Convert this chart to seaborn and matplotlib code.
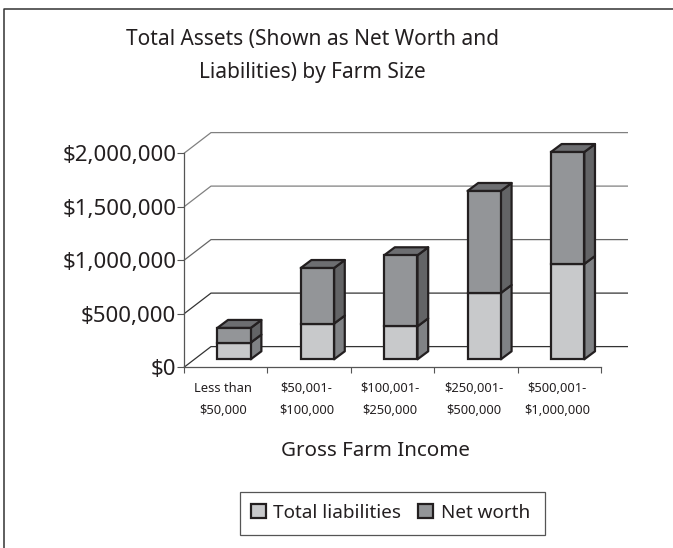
import matplotlib
matplotlib.use("Agg")
import matplotlib.pyplot as plt
import seaborn as sns
import pandas as pd
from matplotlib.patches import Polygon, Patch, Rectangle
from matplotlib.lines import Line2D
from matplotlib.transforms import Affine2D

categories = ["Less than\n$50,000", "$50,001-\n$100,000", "$100,001-\n$250,000",
              "$250,001-\n$500,000", "$500,001-\n$1,000,000"]
total_liabilities = [156000, 334000, 308000, 620000, 891000]
net_worth = [137000, 519000, 664000, 953000, 1046000]
y_ticks = [0, 500000, 1000000, 1500000, 2000000]
y_labels = ["$0", "$500,000", "$1,000,000", "$1,500,000", "$2,000,000"]

C_LIAB, C_NET = "#C8C9CB", "#939598"
C_LIAB_SIDE, C_NET_SIDE, C_TOP = "#808285", "#636466", "#6D6E71"
EDGE = "#231F20"
LW = 1.6

W, H = 673, 548
sns.set_theme(style="white")
plt.rcParams["font.family"] = ["Noto Sans", "DejaVu Sans"]

fig = plt.figure(figsize=(W / 100, H / 100), dpi=100)
fig.patch.set_facecolor("white")
ax = fig.add_axes([184 / W, 1 - 367.3 / H, (601 - 184) / W, (367.3 - 153.3) / H])
ax.patch.set_alpha(0)

df = pd.DataFrame({"cat": categories, "liab": total_liabilities, "net": net_worth})
kw = dict(edgecolor=EDGE, linewidth=LW, width=0.4, saturation=1, zorder=5)
sns.barplot(data=df, x="cat", y="liab", color=C_LIAB, ax=ax, **kw)
sns.barplot(data=df, x="cat", y="net", bottom=df["liab"].to_numpy(), color=C_NET, ax=ax, **kw)

ax.set_xlim(-0.5, 4.5)
ax.set_ylim(0, 2000000)

# depth of the 3D frame and of the bars, in data units
wall_dx, wall_dy = 27 / 83.4, 20.7 / 107 * 1e6
bar_sx, bar_sy = 8.3 / 83.4, 8 / 107 * 1e6
bar_dx, bar_dy = 10.7 / 83.4, 8 / 107 * 1e6

# shift front faces into the floor
shift = Affine2D().translate(bar_sx, bar_sy) + ax.transData
for p in ax.patches:
    p.set_transform(shift)
    p.set_clip_on(False)

# side and top faces
half = 0.2
for i, (l, n) in enumerate(zip(total_liabilities, net_worth)):
    r = i + half + bar_sx
    lft = i - half + bar_sx
    base = bar_sy
    for lo, hi, col in ((0, l, C_LIAB_SIDE), (l, l + n, C_NET_SIDE)):
        ax.add_patch(Polygon([(r, base + lo), (r + bar_dx, base + lo + bar_dy),
                              (r + bar_dx, base + hi + bar_dy), (r, base + hi)],
                             closed=True, facecolor=col, edgecolor=EDGE, linewidth=LW,
                             zorder=4, clip_on=False, joinstyle="round"))
    t = base + l + n
    ax.add_patch(Polygon([(lft, t), (r, t), (r + bar_dx, t + bar_dy), (lft + bar_dx, t + bar_dy)],
                         closed=True, facecolor=C_TOP, edgecolor=EDGE, linewidth=LW,
                         zorder=4, clip_on=False, joinstyle="round"))

# back wall gridlines with their diagonal on the side wall
grid_colors = ["#333333", "#333333", "#666666", "#808080", "#808080"]
for v, col in zip(y_ticks, grid_colors):
    ax.plot([-0.5, -0.5 + wall_dx, 4.5 + wall_dx], [v, v + wall_dy, v + wall_dy],
            color=col, lw=0.9, zorder=1, clip_on=False, solid_capstyle="butt")

# axes
for s in ("top", "right"):
    ax.spines[s].set_visible(False)
for s in ("left", "bottom"):
    ax.spines[s].set_color("#555555")
    ax.spines[s].set_linewidth(0.9)
ax.set_xlabel("")
ax.set_ylabel("")
ax.set_yticks(y_ticks)
ax.set_yticklabels(y_labels, fontsize=16, color="#231F20")
ax.tick_params(axis="y", length=5, width=0.8, color="#555555", pad=0.5, left=True)
ax.set_xticks([i - 0.5 for i in range(6)])
ax.set_xticklabels([])
ax.tick_params(axis="x", which="major", length=4.5, width=0.8, color="#555555", bottom=True)
for i, c in enumerate(categories):
    a, b = c.split("\n")
    for txt, py in ((a, 388), (b, 411)):
        fig.text((184 + 83.4 * (i + 0.5) - 2.5) / W, 1 - py / H, txt, ha="center", va="center",
                 fontsize=9.3, color="#231F20")

# titles
fig.text(312 / W, 1 - 40 / H, "Total Assets (Shown as Net Worth and", ha="center", va="center",
         fontsize=15, color="#231F20")
fig.text(312 / W, 1 - 72 / H, "Liabilities) by Farm Size", ha="center", va="center",
         fontsize=15, color="#231F20")
fig.text(375 / W, 1 - 451 / H, "Gross Farm Income", ha="center", va="center",
         fontsize=14.8, color="#231F20")

# legend: frame drawn separately for the box's exact proportions
fig.add_artist(Rectangle((240 / W, 1 - 535 / H), 305 / W, 43 / H, transform=fig.transFigure,
                         facecolor="white", edgecolor="#555555", linewidth=0.9))
handles = [Patch(facecolor=C_LIAB, edgecolor=EDGE, linewidth=1.6, label="Total liabilities"),
           Patch(facecolor=C_NET, edgecolor=EDGE, linewidth=1.6, label="Net worth")]
leg = fig.legend(handles=handles, loc="center", bbox_to_anchor=(390.5 / W, 1 - 512.5 / H),
                 ncol=2, fontsize=13.6, frameon=False, labelcolor="#231F20",
                 handlelength=0.8, handleheight=0.8, handletextpad=0.4, columnspacing=0.9)

# outer border: only the top and left edges are visible
fig.add_artist(Line2D([3.5 / W, 3.5 / W, 1], [0, 1 - 8.5 / H, 1 - 8.5 / H],
                      transform=fig.transFigure, color="#333333", linewidth=1.1))

fig.savefig("out.png", dpi=100)
